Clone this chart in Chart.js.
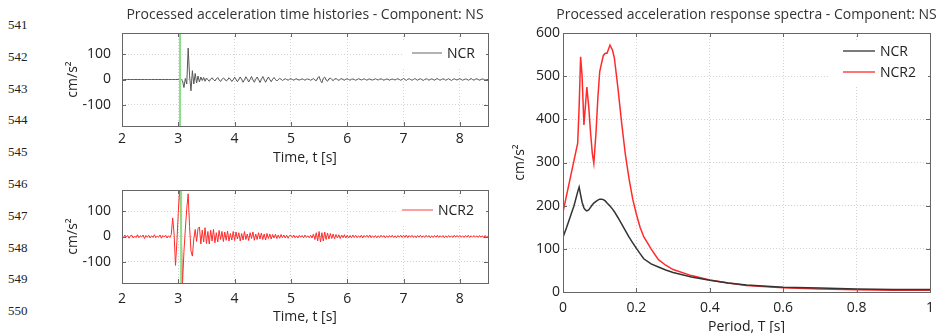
<!DOCTYPE html>
<html>
<head>
<meta charset="utf-8">
<script src="https://cdn.jsdelivr.net/npm/chart.js@4.4.1/dist/chart.umd.min.js"></script>
<style>
  html, body { margin: 0; padding: 0; background: #fff; overflow: hidden; }
  body { width: 944px; height: 333px; position: relative; }
  canvas { position: absolute; }
  .ln { position: absolute; left: 8px; font: 13px "Liberation Serif", "Times New Roman", serif; color: #222; line-height: 14px; }
</style>
</head>
<body>
<div id="lineNumbers"></div>
<canvas id="ncrChart" width="460" height="170" style="left:40px;top:0px"></canvas>
<canvas id="ncr2Chart" width="460" height="162" style="left:40px;top:165px"></canvas>
<canvas id="spectraChart" width="444" height="340" style="left:500px;top:0px"></canvas>
<script>
// manuscript line numbers in the left margin
const lineNumbers = ["541", "542", "543", "544", "545", "546", "547", "548", "549", "550"];

// time histories, sampled every 0.025 s from 2.0 s to 8.5 s
const timeStart = 2;
const timeStep = 0.025;
const timeTicks = [2, 3, 4, 5, 6, 7, 8];
const accTicks = [-100, 0, 100];
const pickTimes = [3.03, 3.05]; // green markers (NCR, NCR2)

const ncrAcc = [
  0, 0, 0, 0, 0, 0, 0, 0, 0, 0, 0, 0, 0, 0, 0, 0, 0, 0, 0, 0,
  0, 0, 0, 0, 0, 0, 0, 0, 0, 0, 0, 0, 0, 0, 0, 0, 0, 0, 0, 0,
  0, 0, 0, -5, -32, 4, -18, 125, 15, -45, 35, -18, 24, -14, 14, -10, 10, -4, 8, -7,
  6, -1, -7, 1, 7, 0, -6, 2, 8, -1, -8, 0, 6, 2, -6, -2, 7, 1, -8, -1,
  9, 0, -9, 1, 10, 0, -11, -1, 11, 1, -10, 0, 12, -1, -11, 1, 10, 0, -12, 0,
  12, 1, -11, 0, 10, 0, -9, 1, 8, 0, -6, 0, 4, 1, -4, 0, 3, 0, -3, 1,
  3, 0, -3, 1, 3, -1, -2, 0, 3, 0, -3, 1, 2, 0, -3, 0, 4, -2, -5, 6,
  12, -4, -13, 5, 10, -2, -7, 3, 6, 0, -5, 2, 4, 0, -4, 1, 4, 0, -3, 1,
  3, 0, -3, 1, 2, 0, -3, 0, 3, 1, -2, 0, 3, 0, -3, 1, 2, -1, -2, 0,
  3, 0, -2, 1, 3, 0, -3, 0, 2, 1, -3, 0, 2, 0, -2, 1, 3, 0, -3, 0,
  4, 0, -4, 1, 3, 0, -3, 0, 4, 0, -3, 1, 3, 0, -4, 0, 3, 1, -3, 0,
  3, 0, -3, 1, 4, 0, -3, 0, 3, 1, -3, 0, 3, 0, -4, 0, 3, 0, -2, 1,
  3, 0, -3, 0, 2, 1, -3, 0, 4, 0, -3, 1, 3, 0, -3, 0, 2, 1, -3, 0,
  0
];

const ncr2Acc = [
  2, -5, 6, -3, 4, -7, 3, 5, -6, 2, -4, 7, -5, 3, -2, 6, -8, 4, -3, 5,
  -6, 3, -4, 7, -5, 2, -3, 6, -7, 4, -2, 5, -6, 3, -4, 8, 74, 10, -115, -20,
  95, 205, 40, -185, -60, 30, 110, 170, 40, -58, -78, -10, 28, -20, 32, 38, -30, 25, -22, 35,
  -28, 20, -30, 25, -18, 28, -25, 15, -22, 24, -12, 20, -20, 18, -15, 22, -18, 12, -14, 20,
  -16, 18, -10, 15, -18, 12, -14, 20, -12, 10, -16, 15, -8, 18, -15, 10, -12, 15, -10, 14,
  -12, 10, -14, 12, -8, 10, -10, 8, -6, 9, -8, 6, -7, 8, -5, 6, -6, 5, -7, 4,
  5, -4, 6, -5, 3, -6, 5, -3, 4, -5, 6, -4, 3, -5, 5, -6, 10, -12, 15, -18,
  20, -22, 15, -18, 18, -12, 14, -10, 12, -8, 10, -9, 8, -6, 7, -8, 6, -5, 7, -6,
  5, -6, 4, -5, 6, -4, 5, -5, 3, -4, 5, -6, 4, -3, 5, -4, 6, -5, 3, -4,
  4, -5, 3, -4, 5, -3, 4, -5, 3, -4, 4, -3, 5, -4, 3, -5, 4, -3, 5, -4,
  5, -4, 6, -5, 4, -3, 5, -4, 3, -5, 4, -3, 5, -4, 3, -4, 5, -3, 4, -5,
  3, -4, 4, -3, 5, -4, 3, -3, 4, -5, 3, -4, 4, -3, 3, -4, 5, -3, 4, -3,
  4, -3, 3, -4, 4, -3, 5, -4, 3, -3, 4, -3, 3, -4, 4, -3, 3, -4, 4, -3,
  0
];

// response spectra
const periods = [0, 0.01, 0.02, 0.03, 0.04, 0.044, 0.048, 0.052, 0.057, 0.061, 0.065, 0.07, 0.075, 0.08,
  0.084, 0.09, 0.095, 0.1, 0.105, 0.11, 0.115, 0.12, 0.128, 0.135, 0.14, 0.15, 0.16, 0.17, 0.18, 0.19,
  0.2, 0.21, 0.22, 0.24, 0.26, 0.28, 0.3, 0.35, 0.4, 0.45, 0.5, 0.6, 0.7, 0.8, 0.9, 1.0];
const ncrSpec = [127, 150, 175, 200, 232, 243, 225, 208, 195, 190, 188, 190, 196, 202,
  206, 210, 213, 215, 215, 214, 211, 206, 199, 192, 186, 172, 157, 142, 127, 114,
  101, 89, 77, 65, 58, 51, 45, 35, 27, 21, 16, 11, 9, 7, 6, 6];
const ncr2Spec = [185, 225, 265, 305, 345, 430, 545, 500, 387, 430, 475, 430, 370, 320,
  298, 370, 450, 510, 530, 548, 553, 553, 572, 560, 542, 470, 390, 318, 262, 215,
  180, 150, 128, 100, 75, 62, 52, 38, 28, 21, 15, 10, 7, 5, 4, 4];
const periodTicks = [0, 0.2, 0.4, 0.6, 0.8, 1];
const specTicks = [0, 100, 200, 300, 400, 500, 600];

const ink = "#222";
const frameColor = "#666";
const gridColor = "#d2d2d2";
const blackLine = "#333";
const greyLine = "#555";
const redLine = "#ff2b2b";
const greenLine = "#88e088";

Chart.defaults.font.family = "'Open Sans', sans-serif";
Chart.defaults.font.size = 14;
Chart.defaults.color = ink;

const margin = document.getElementById("lineNumbers");
lineNumbers.forEach((n, i) => {
    const d = document.createElement("div");
    d.className = "ln";
    d.textContent = n;
    d.style.top = (18 + i * 31.8) + "px";
    margin.appendChild(d);
});

function seriesPoints(values) {
    return values.map((v, i) => ({ x: timeStart + i * timeStep, y: v }));
}

function pairPoints(xs, ys) {
    return xs.map((x, i) => ({ x: x, y: ys[i] }));
}

// box, inward ticks, title and legend in the MATLAB style
const matlabFrame = {
    id: "matlabFrame",
    afterDatasetsDraw(chart, args, opts) {
        const { ctx, chartArea: a } = chart;
        ctx.save();
        ctx.strokeStyle = frameColor;
        ctx.lineWidth = 1;
        ctx.strokeRect(Math.round(a.left) + 0.5, Math.round(a.top) + 0.5,
            Math.round(a.right - a.left), Math.round(a.bottom - a.top));
        const tl = 4;
        ctx.beginPath();
        chart.scales.x.ticks.forEach(t => {
            const px = Math.round(chart.scales.x.getPixelForValue(t.value)) + 0.5;
            ctx.moveTo(px, a.bottom); ctx.lineTo(px, a.bottom - tl);
            ctx.moveTo(px, a.top); ctx.lineTo(px, a.top + tl);
        });
        chart.scales.y.ticks.forEach(t => {
            const py = Math.round(chart.scales.y.getPixelForValue(t.value)) + 0.5;
            ctx.moveTo(a.left, py); ctx.lineTo(a.left + tl, py);
            ctx.moveTo(a.right, py); ctx.lineTo(a.right - tl, py);
        });
        ctx.stroke();

        if (opts.title) {
            ctx.fillStyle = "#333";
            ctx.font = "14px 'Open Sans', sans-serif";
            ctx.textAlign = "center";
            ctx.textBaseline = "middle";
            ctx.fillText(opts.title, (a.left + a.right) / 2, opts.titleY);
        }

        if (opts.legend) {
            const lg = opts.legend;
            ctx.fillStyle = "#fff";
            ctx.fillRect(a.right - lg.boxWidth, lg.items[0].y - 11, lg.boxWidth - 2, lg.items.length * lg.rowGap + 4);
            ctx.font = "14px 'Open Sans', sans-serif";
            ctx.textAlign = "left";
            ctx.textBaseline = "middle";
            lg.items.forEach(it => {
                ctx.strokeStyle = it.color;
                ctx.lineWidth = 1.3;
                ctx.beginPath();
                ctx.moveTo(a.right - lg.lineFrom, it.y);
                ctx.lineTo(a.right - lg.lineTo, it.y);
                ctx.stroke();
                ctx.fillStyle = ink;
                ctx.fillText(it.label, a.right - lg.textAt, it.y + 1);
            });
        }
        ctx.restore();
    }
};

function makeScales(c) {
    return {
        x: {
            type: "linear", min: c.xMin, max: c.xMax,
            afterBuildTicks: s => { s.ticks = c.xTicks.map(v => ({ value: v })); },
            afterFit: s => { s.height = c.xHeight; },
            ticks: { padding: c.xTickPad, maxRotation: 0, autoSkip: false, callback: v => String(v) },
            grid: { color: gridColor, drawTicks: false },
            border: { display: false, dash: [1, 2] },
            title: { display: true, text: c.xTitle, padding: { top: 0, bottom: c.xTitlePad } }
        },
        y: {
            type: "linear", min: c.yMin, max: c.yMax,
            afterBuildTicks: s => { s.ticks = c.yTicks.map(v => ({ value: v })); },
            afterFit: s => { s.width = c.yWidth; },
            ticks: { padding: c.yTickPad, autoSkip: false, callback: v => String(v) },
            grid: { color: gridColor, drawTicks: false },
            border: { display: false, dash: [1, 2] },
            title: { display: true, text: "cm/s²", padding: { top: c.yTitlePad, bottom: 0 } }
        }
    };
}

function baseOptions(c, frame) {
    return {
        responsive: false,
        animation: false,
        devicePixelRatio: 1,
        layout: { padding: { left: 0, right: c.padRight, top: c.padTop, bottom: 0 } },
        elements: { point: { radius: 0 }, line: { tension: 0 } },
        plugins: { legend: { display: false }, tooltip: { enabled: false }, matlabFrame: frame },
        scales: makeScales(c)
    };
}

const historyAxes = {
    xMin: 2, xMax: 8.5, xTicks: timeTicks, xTitle: "Time, t [s]",
    yMin: -185, yMax: 185, yTicks: accTicks,
    yWidth: 82, yTickPad: 11, yTitlePad: 25, padRight: 12
};

new Chart(document.getElementById("ncrChart"), {
    type: "line",
    data: {
        datasets: [
            { data: [{ x: pickTimes[0], y: -185 }, { x: pickTimes[0], y: 185 }], borderColor: greenLine, borderWidth: 2 },
            { label: "NCR", data: seriesPoints(ncrAcc), borderColor: greyLine, borderWidth: 1 }
        ]
    },
    options: baseOptions(Object.assign({}, historyAxes, { padTop: 33, xHeight: 44, xTickPad: 5, xTitlePad: 4 }), {
        title: "Processed acceleration time histories - Component: NS", titleY: 15,
        legend: { boxWidth: 86, lineFrom: 76, lineTo: 46, textAt: 41, rowGap: 22,
            items: [{ label: "NCR", color: "#888", y: 53 }] }
    }),
    plugins: [matlabFrame]
});

new Chart(document.getElementById("ncr2Chart"), {
    type: "line",
    data: {
        datasets: [
            { data: [{ x: pickTimes[1], y: -185 }, { x: pickTimes[1], y: 185 }], borderColor: greenLine, borderWidth: 2 },
            { label: "NCR2", data: seriesPoints(ncr2Acc), borderColor: redLine, borderWidth: 1 }
        ]
    },
    options: baseOptions(Object.assign({}, historyAxes, { padTop: 25, xHeight: 44, xTickPad: 8, xTitlePad: 2 }), {
        legend: { boxWidth: 92, lineFrom: 86, lineTo: 55, textAt: 50, rowGap: 22,
            items: [{ label: "NCR2", color: "#ff6b6b", y: 45 }] }
    }),
    plugins: [matlabFrame]
});

new Chart(document.getElementById("spectraChart"), {
    type: "line",
    data: {
        datasets: [
            { label: "NCR", data: pairPoints(periods, ncrSpec), borderColor: blackLine, borderWidth: 1.5 },
            { label: "NCR2", data: pairPoints(periods, ncr2Spec), borderColor: redLine, borderWidth: 1.5 }
        ]
    },
    options: baseOptions({
        xMin: 0, xMax: 1, xTicks: periodTicks, xTitle: "Period, T [s]",
        yMin: 0, yMax: 600, yTicks: specTicks,
        yWidth: 63, yTickPad: 3, yTitlePad: 12, padRight: 14,
        padTop: 33, xHeight: 48, xTickPad: 8, xTitlePad: 5
    }, {
        title: "Processed acceleration response spectra - Component: NS", titleY: 15,
        legend: { boxWidth: 102, lineFrom: 87, lineTo: 55, textAt: 50, rowGap: 21,
            items: [{ label: "NCR", color: blackLine, y: 51 }, { label: "NCR2", color: redLine, y: 72 }] }
    }),
    plugins: [matlabFrame]
});
</script>
</body>
</html>
